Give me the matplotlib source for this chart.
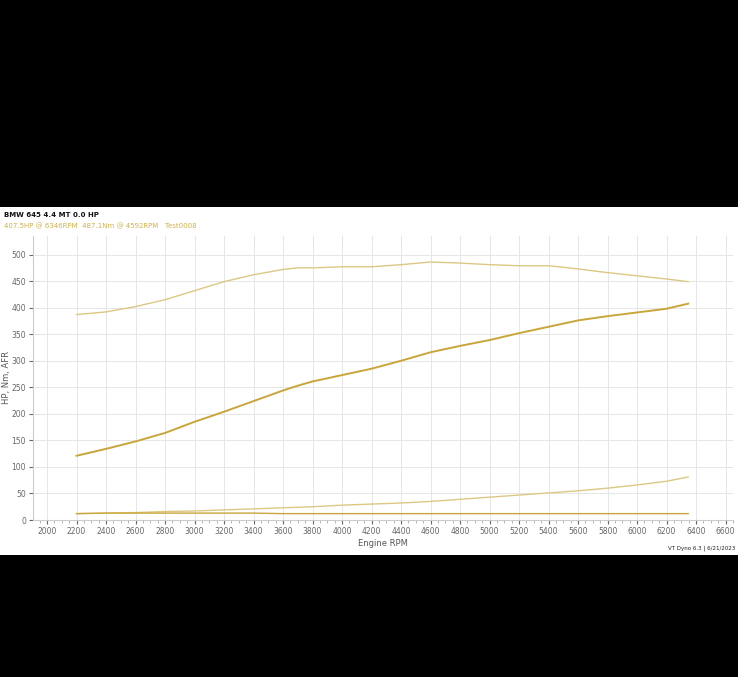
import matplotlib.pyplot as plt
from matplotlib.patches import Rectangle
from matplotlib.ticker import MultipleLocator

# dyno run values
rpm = [2200, 2400, 2600, 2800, 3000, 3200, 3400, 3600, 3700, 3800, 4000,
       4200, 4400, 4600, 4800, 5000, 5200, 5400, 5600, 5800, 6000, 6200, 6346]
torque_nm = [387, 392, 402, 415, 432, 449, 462, 472, 475, 475, 477,
             477, 481, 486, 484, 481, 479, 479, 473, 466, 460, 454, 449]
power_hp = [121, 134, 148, 164, 185, 204, 224, 244, 253, 261, 273,
            285, 300, 316, 328, 339, 352, 364, 376, 384, 391, 398, 407.5]
rising_line = [12, 13, 14, 16, 17, 19, 21, 23, 24, 25, 28,
               30, 32, 35, 39, 43, 47, 51, 55, 60, 66, 73, 81]
afr_line = [12, 13, 13, 13, 13, 13, 13, 12, 12, 12, 12,
            12, 12, 12, 12, 12, 12, 12, 12, 12, 12, 12, 12]

W, H = 738, 677
fig = plt.figure(figsize=(W / 100, H / 100), dpi=100, facecolor="black")

# white card in the middle of the black screenshot
fig.patches.append(Rectangle((0, (H - 555) / H), 1, (555 - 207) / H,
                             transform=fig.transFigure, facecolor="white",
                             edgecolor="none", zorder=-10))

ax = fig.add_axes([33 / W, (H - 520) / H, (733 - 33) / W, (520 - 236) / H])
ax.set_facecolor("white")

gold = "#c9a53a"
light = "#dcc882"
ax.plot(rpm, torque_nm, color=light, lw=1.0)
ax.plot(rpm, power_hp, color=gold, lw=1.4)
ax.plot(rpm, rising_line, color=light, lw=1.0)
ax.plot(rpm, afr_line, color=gold, lw=1.0)

ax.set_xlim(1905, 6650)
ax.set_ylim(0, 535)
ax.xaxis.set_major_locator(MultipleLocator(200))
ax.xaxis.set_minor_locator(MultipleLocator(50))
ax.yaxis.set_major_locator(MultipleLocator(50))
ax.grid(True, color="#e6e6e6", lw=0.7)
ax.set_axisbelow(True)
for side in ["top", "right"]:
    ax.spines[side].set_visible(False)
for side in ["left", "bottom"]:
    ax.spines[side].set_color("#cccccc")
ax.tick_params(axis="both", labelsize=5.5, colors="#666666", length=3, pad=2)
ax.tick_params(axis="both", which="minor", length=2, colors="#aaaaaa")

ax.set_xlabel("Engine RPM", fontsize=6, color="#555555", labelpad=2)
ax.set_ylabel("HP, Nm, AFR", fontsize=6, color="#555555")
ax.yaxis.set_label_coords(-22 / 700, 0.5)

fig.text(4 / W, 1 - 215 / H, "BMW 645 4.4 MT 0.0 HP", fontsize=5,
         fontweight="bold", color="#111111", va="center")
fig.text(4 / W, 1 - 226 / H,
         "407.5HP @ 6346RPM  487.1Nm @ 4592RPM   Test0008",
         fontsize=5, color="#d4b04a", va="center")
fig.text(735 / W, 1 - 548 / H, "VT Dyno 6.3 | 6/21/2023", fontsize=4,
         color="#222222", ha="right", va="center")

fig.savefig("out.png", dpi=100, facecolor="black")
